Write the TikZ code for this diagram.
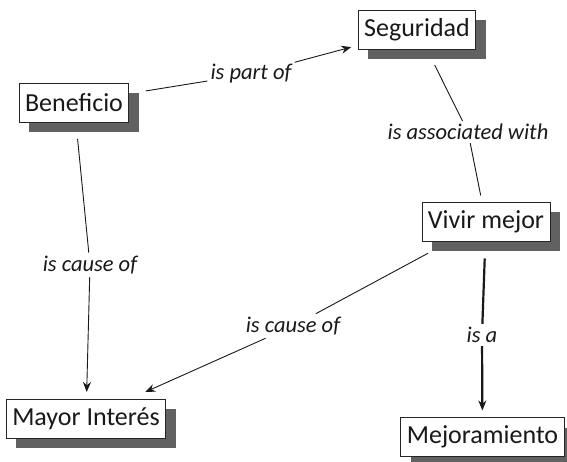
\documentclass[tikz,border=0pt]{standalone}
\usepackage{fontspec}
\setmainfont{Carlito}
\usetikzlibrary{shadows,arrows.meta}

\begin{document}
\begin{tikzpicture}[x=1pt,y=-1pt,>={Stealth[length=10pt,width=8pt]},
  concept/.style={draw=black!85,line width=0.9pt,fill=white,text=black!90,
    font=\fontsize{26}{30}\selectfont,inner xsep=6pt,minimum height=39pt,outer sep=7pt,
    drop shadow={shadow xshift=10pt,shadow yshift=-10pt,fill=black!62,opacity=1}},
  linking/.style={font=\fontsize{22.5}{26}\selectfont\itshape,text=black!90,inner sep=3pt},
  link/.style={line width=0.9pt,black!90},
  fromnode/.style={shorten <=10pt}]

\useasboundingbox (0,0) rectangle (567,462);

% The concepts
\node[concept] (ben) at (74,102.5) {Beneficio};
\node[concept] (seg) at (417,29.5) {Seguridad};
\node[concept] (viv) at (486,222) {Vivir mejor};
\node[concept] (may) at (86,418.5) {Mayor Interés};
\node[concept] (mej) at (482.5,437) {Mejoramiento};

% The linking phrases
\node[linking] (partof) at (251,74) {is part of};
\node[linking] (assoc) at (468,132) {is associated with};
\node[linking] (causeA) at (90,265) {is cause of};
\node[linking] (causeB) at (293,326) {is cause of};
\node[linking] (isa) at (482,335) {is a};

% The connectors
\draw[link,fromnode] (ben) -- (partof);
\draw[link,->] (partof) -- (seg);
\draw[link,fromnode] (seg) -- (assoc);
\draw[link] (assoc) -- (viv);
\draw[link,fromnode] (ben) -- (causeA);
\draw[link,->] (causeA) -- (may);
\draw[link,fromnode] (viv) -- (causeB);
\draw[link,->] (causeB) -- (may);
\draw[link,line width=2.2pt,fromnode] (viv) -- (isa);
\draw[link,line width=2.2pt,->] (isa) -- (mej);

\end{tikzpicture}
\end{document}
